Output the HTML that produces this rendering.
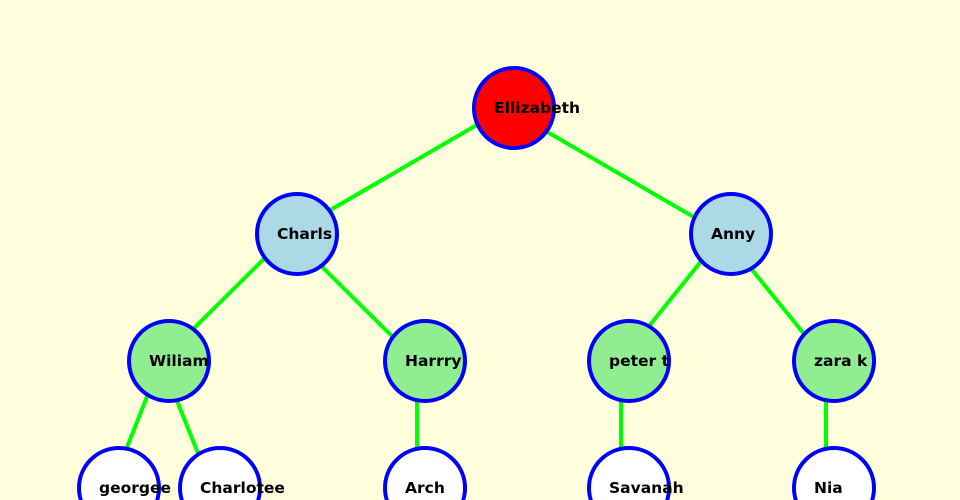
<!DOCTYPE html>
<html><head><meta charset="utf-8"><style>
html,body{margin:0;padding:0;background:#ffffdd;width:960px;height:500px;overflow:hidden;}
svg{display:block;}
text{font-family:"DejaVu Sans","Liberation Sans",sans-serif;font-weight:bold;font-size:15.5px;fill:#000;}
</style></head><body>
<svg width="960" height="500" viewBox="0 0 960 500">
<rect width="960" height="500" fill="#ffffdd"/>
<g stroke="#00ff00" stroke-width="4">
<line x1="506" y1="108" x2="289" y2="234"/>
<line x1="506" y1="108" x2="723" y2="234"/>
<line x1="289" y1="234" x2="161" y2="361"/>
<line x1="289" y1="234" x2="417" y2="361"/>
<line x1="723" y1="234" x2="621" y2="361"/>
<line x1="723" y1="234" x2="826" y2="361"/>
<line x1="161" y1="361" x2="111" y2="488"/>
<line x1="161" y1="361" x2="212" y2="488"/>
<line x1="417" y1="361" x2="417" y2="488"/>
<line x1="621" y1="361" x2="621" y2="488"/>
<line x1="826" y1="361" x2="826" y2="488"/>
</g>
<g stroke="#0000ff" stroke-width="4">
<circle cx="514" cy="108" r="40" fill="#ff0000"/>
<circle cx="297" cy="234" r="40" fill="#add8e6"/>
<circle cx="731" cy="234" r="40" fill="#add8e6"/>
<circle cx="169" cy="361" r="40" fill="#90ee90"/>
<circle cx="425" cy="361" r="40" fill="#90ee90"/>
<circle cx="629" cy="361" r="40" fill="#90ee90"/>
<circle cx="834" cy="361" r="40" fill="#90ee90"/>
<circle cx="119" cy="488" r="40" fill="#ffffff"/>
<circle cx="220" cy="488" r="40" fill="#ffffff"/>
<circle cx="425" cy="488" r="40" fill="#ffffff"/>
<circle cx="629" cy="488" r="40" fill="#ffffff"/>
<circle cx="834" cy="488" r="40" fill="#ffffff"/>
</g>
<g>
<text x="494" y="113">Ellizabeth</text>
<text x="277" y="239">Charls</text>
<text x="711" y="239">Anny</text>
<text x="149" y="366">Wiliam</text>
<text x="405" y="366">Harrry</text>
<text x="609" y="366">peter t</text>
<text x="814" y="366">zara k</text>
<text x="99" y="493">georgee</text>
<text x="200" y="493">Charlotee</text>
<text x="405" y="493">Arch</text>
<text x="609" y="493">Savanah</text>
<text x="814" y="493">Nia</text>
</g>
</svg>
</body></html>
